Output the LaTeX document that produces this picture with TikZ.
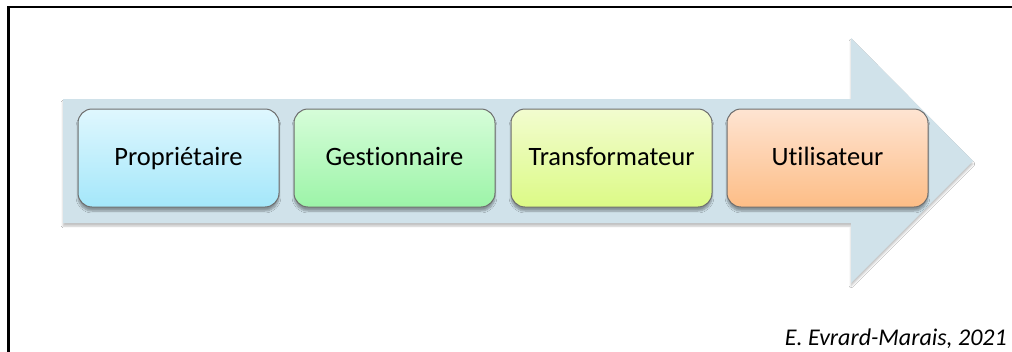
\documentclass[tikz,border=0pt]{standalone}
\usepackage{fontspec}
\setmainfont{Carlito}[Ligatures=NoCommon]
\usetikzlibrary{shadows.blur}
\definecolor{arrowc}{HTML}{D0E2EA}
\definecolor{bluet}{HTML}{DFF7FE}
\definecolor{blueb}{HTML}{A4E7FA}
\definecolor{greent}{HTML}{D6FDD9}
\definecolor{greenb}{HTML}{9CF4A8}
\definecolor{yellt}{HTML}{F2FCCF}
\definecolor{yellb}{HTML}{DCFA86}
\definecolor{orat}{HTML}{FEE4D2}
\definecolor{orab}{HTML}{FDBD86}
\definecolor{boxline}{HTML}{6E6E6E}
\tikzset{
  stagebox/.style={draw=boxline, line width=1pt, rounded corners=14pt,
    minimum width=201pt, minimum height=98pt, inner sep=0pt,
    text height=20pt, text depth=5pt,
    font=\fontsize{26.5}{31}\selectfont,
    blur shadow={shadow xshift=0pt, shadow yshift=-4pt, shadow blur steps=6, shadow opacity=35}},
  framel/.style={line width=2.5pt, black}
}
\begin{document}
\begin{tikzpicture}[x=1pt,y=-1pt]
\useasboundingbox (0,0) rectangle (1012,351);
\clip (0,0) rectangle (1012,351);
\fill[white] (0,0) rectangle (1012,351);
\draw[framel] (8.5,400) -- (8.5,7) -- (1100,7);
% big arrow
\fill[arrowc, blur shadow={shadow xshift=0pt, shadow yshift=-3pt, shadow blur steps=5, shadow opacity=25}]
  (63,99) -- (851,99) -- (851,38) -- (973,161) -- (851,283) -- (851,223) -- (63,223) -- cycle;
\node[stagebox, top color=bluet, bottom color=blueb] (p) at (178.5,158) {Propriétaire};
\node[stagebox, top color=greent, bottom color=greenb] (g) at (394.5,158) {Gestionnaire};
\node[stagebox, top color=yellt, bottom color=yellb] (t) at (611.5,158) {Transformateur};
\node[stagebox, top color=orat, bottom color=orab] (u) at (827.5,158) {Utilisateur};
\node[anchor=base east, inner sep=0pt, font=\fontsize{24}{29}\selectfont\itshape] (c) at (1007,345) {E. Evrard-Marais, 2021};
\end{tikzpicture}
\end{document}
